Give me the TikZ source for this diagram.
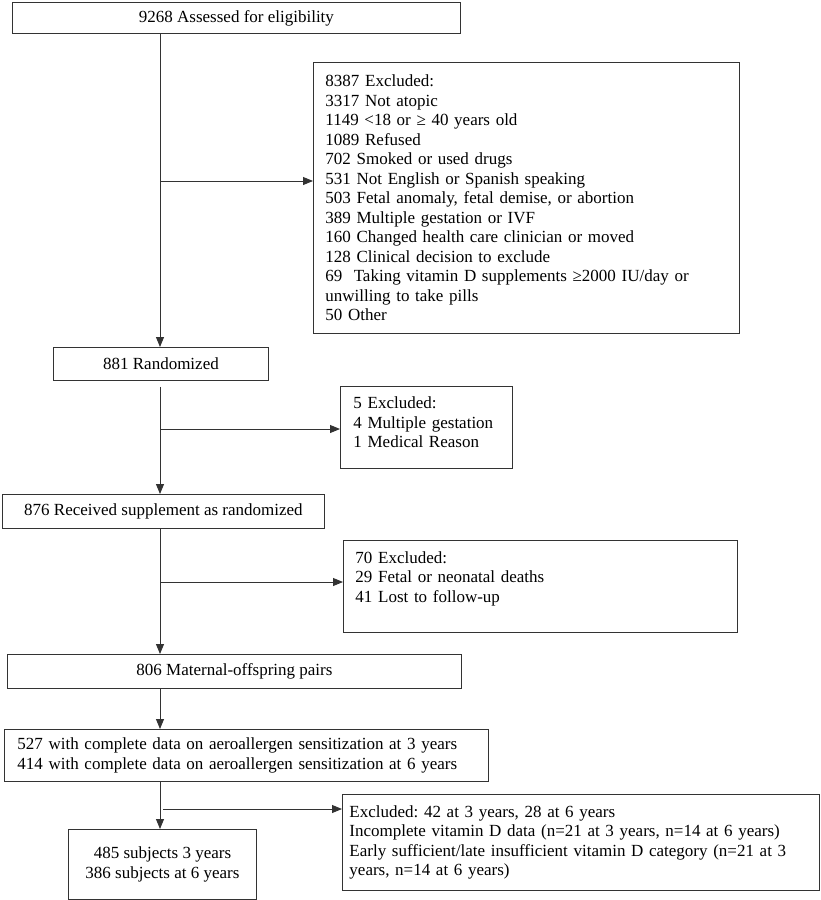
\documentclass[tikz,border=0pt]{standalone}
\usepackage{fontspec}
\setmainfont{Liberation Serif}
\usetikzlibrary{arrows.meta}
\frenchspacing

\begin{document}
\begin{tikzpicture}[x=1pt,y=-1pt,->,>={Triangle[length=10pt,width=8pt]},
                line width=0.9pt,draw=black!80,
                every node/.style={font=\fontsize{17}{19.5}\selectfont,line width=0.9pt},
                m node/.style={draw,anchor=north west,inner sep=2pt,align=center},
                x node/.style={draw,anchor=north west,inner xsep=12pt,inner ysep=3pt,align=left}]

    \useasboundingbox (0,0) rectangle (821,900);

    % main column
    \node[m node,minimum width=448pt,minimum height=31pt] (assess) at (12,2) {9268 Assessed for eligibility};
    \node[m node,minimum width=215pt,minimum height=33pt] (rand) at (53,347) {881 Randomized};
    \node[m node,minimum width=322pt,minimum height=34pt] (recv) at (2,494) {876 Received supplement as randomized};
    \node[m node,minimum width=454pt,minimum height=34pt] (pairs) at (7,654) {806 Maternal-offspring pairs};
    \node[x node,inner xsep=13pt,text width=458pt,minimum height=52pt] (sens) at (4,729)
        {527 with complete data on aeroallergen sensitization at 3 years\\
         414 with complete data on aeroallergen sensitization at 6 years};
    \node[m node,minimum width=188pt,minimum height=70pt] (subj) at (68,829) {485 subjects 3 years\\386 subjects at 6 years};

    % exclusions
    \node[x node,text width=402pt,minimum height=271pt] (ex1) at (313,62)
        {8387 Excluded:\\
         3317 Not atopic\\
         1149 <18 or ≥ 40 years old\\
         1089 Refused\\
         702 Smoked or used drugs\\
         531 Not English or Spanish speaking\\
         503 Fetal anomaly, fetal demise, or abortion\\
         389 Multiple gestation or IVF\\
         160 Changed health care clinician or moved\\
         128 Clinical decision to exclude\\
         69~ Taking vitamin D supplements ≥2000 IU/day or\\
         unwilling to take pills\\
         50 Other};
    \node[x node,inner xsep=13pt,text width=146pt,minimum height=82pt] (ex2) at (340,386)
        {5 Excluded:\\
         4 Multiple gestation\\
         1 Medical Reason\\[-9pt]\mbox{}};
    \node[x node,text width=370pt,minimum height=92pt] (ex3) at (343,540)
        {70 Excluded:\\
         29 Fetal or neonatal deaths\\
         41 Lost to follow-up\\
         \mbox{}};
    \node[x node,inner xsep=7pt,text width=463pt,minimum height=96pt] (ex4) at (342,794)
        {Excluded: 42 at 3 years, 28 at 6 years\\
         Incomplete vitamin D data (n=21 at 3 years, n=14 at 6 years)\\
         Early sufficient/late insufficient vitamin D category (n=21 at 3\\
         years, n=14 at 6 years)};

    % spine and branch points
    \coordinate (sp) at (160,0);
    \coordinate (b1) at (160,181);
    \coordinate (b2) at (160,429);
    \coordinate (b3) at (160,582);
    \coordinate (b4) at (163,809);

    \draw (sp |- assess.south) -- (sp |- rand.north);
    \draw[shorten <=6pt] (sp |- rand.south) -- (sp |- recv.north);
    \draw (sp |- recv.south) -- (sp |- pairs.north);
    \draw (sp |- pairs.south) -- (sp |- sens.north);
    \draw (sp |- sens.south) -- (sp |- subj.north);

    \draw (b1) -- (b1 -| ex1.west);
    \draw (b2) -- (b2 -| ex2.west);
    \draw (b3) -- (b3 -| ex3.west);
    \draw (b4) -- (b4 -| ex4.west);

\end{tikzpicture}
\end{document}
